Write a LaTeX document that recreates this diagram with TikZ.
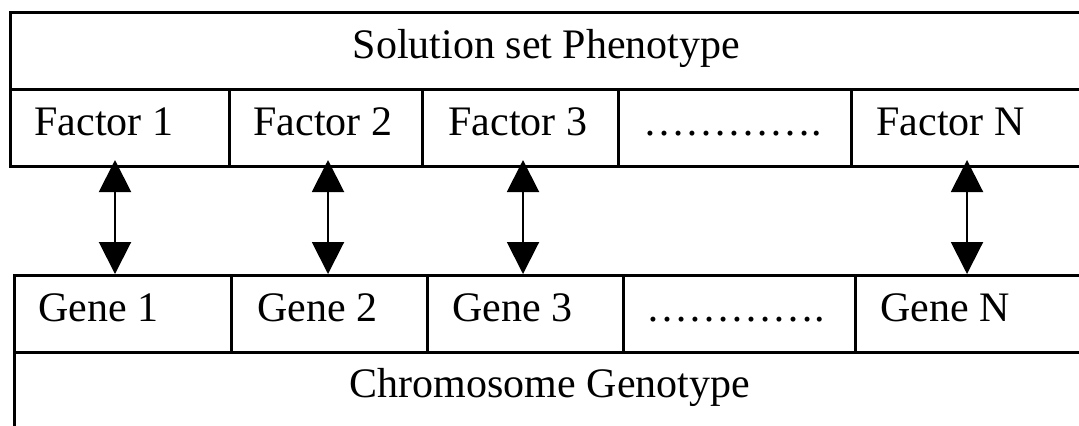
\documentclass[tikz,border=0pt]{standalone}
\usepackage{fontspec}
\setmainfont{Liberation Serif}
\usetikzlibrary{arrows.meta}
\begin{document}
\begin{tikzpicture}[x=0.5pt,y=-0.5pt,
  frame/.style={draw=black, line width=1.5pt},
  lbl/.style={anchor=base west, inner sep=0pt, font=\fontsize{21pt}{25pt}\selectfont},
  ctr/.style={anchor=base, inner sep=0pt, font=\fontsize{21pt}{25pt}\selectfont},
  link/.style={line width=1pt, {Triangle[length=16pt,width=16pt]}-{Triangle[length=16pt,width=16pt]}}]
\useasboundingbox (0,0) rectangle (1079,425);
\clip (0,0) rectangle (1079,425);

% phenotype block: title row and factor row
\draw[frame] (1100,12.5) -- (10,12.5) -- (10,166) -- (1100,166);
\draw[frame] (10,89.5) -- (1100,89.5);
\foreach \x in {229,422,618,851} \draw[frame] (\x,89.5) -- (\x,166);

% genotype block: gene row and chromosome row
\draw[frame] (1100,275) -- (14,275) -- (14,440);
\draw[frame] (14,352.5) -- (1100,352.5);
\foreach \x in {231,427,623,855} \draw[frame] (\x,275) -- (\x,352.5);

% texts
\node[ctr] (pheno) at (546.5,58) {Solution set Phenotype};
\node[lbl] (f1) at (34,135) {Factor 1};
\node[lbl] (f2) at (253,135) {Factor 2};
\node[lbl] (f3) at (448,135) {Factor 3};
\node[lbl] (fd) at (643,135) {………….};
\node[lbl] (fn) at (876,135) {Factor N};

\node[lbl] (g1) at (38,321) {Gene 1};
\node[lbl] (g2) at (257,321) {Gene 2};
\node[lbl] (g3) at (452,321) {Gene 3};
\node[lbl] (gd) at (646,321) {………….};
\node[lbl] (gn) at (880,321) {Gene N};
\node[ctr] (geno) at (550,397) {Chromosome Genotype};

% mapping arrows between factors and genes
\foreach \n/\x in {1/115,2/328,3/523,n/967}{
  \coordinate (t\n) at (\x,160);
  \coordinate (b\n) at (\x,274);
  \draw[link] (b\n) -- (t\n);
}
\end{tikzpicture}
\end{document}
